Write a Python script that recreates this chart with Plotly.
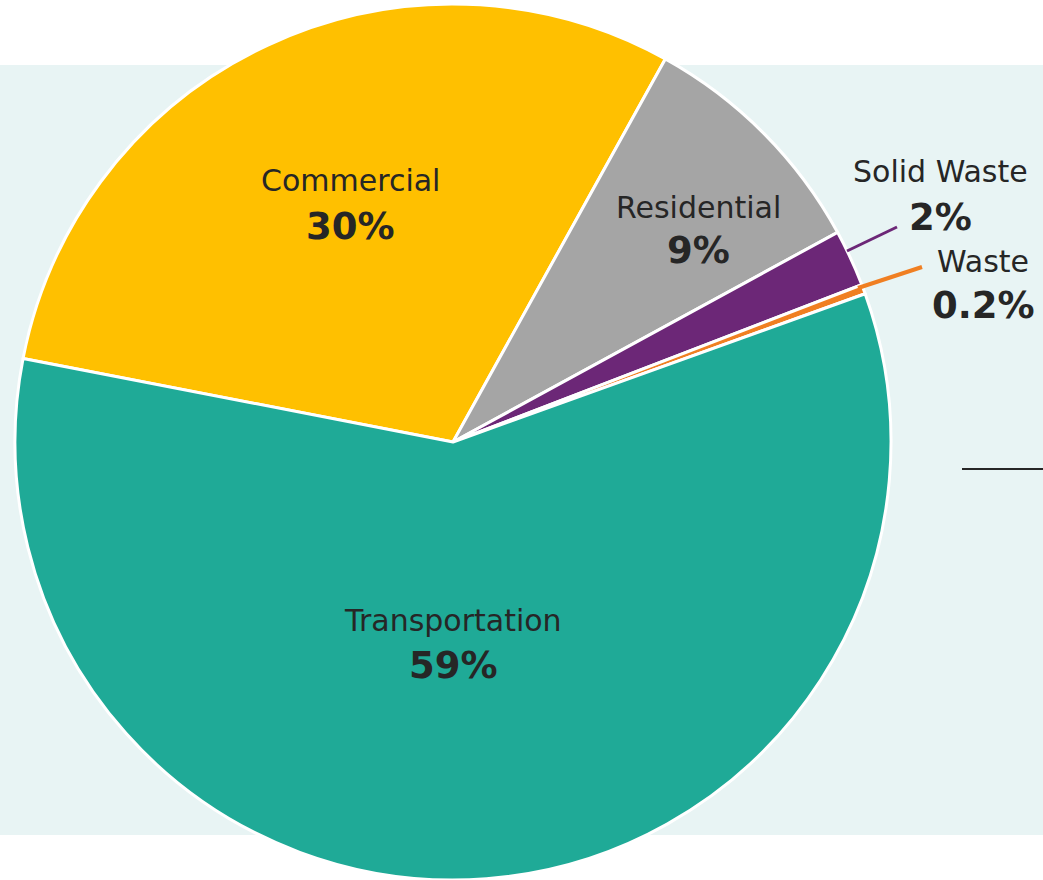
import plotly.graph_objects as go

# Data
categories = ["Commercial", "Residential", "Solid Waste", "Waste", "Transportation"]
values = [30.0, 9.0, 2.1, 0.35, 58.55]
pct_labels = ["30%", "9%", "2%", "0.2%", "59%"]
colors = ["#FFC000", "#A5A5A5", "#6C2777", "#F07F22", "#1FAA97"]

W, H = 1043, 880
cx, cy, r = 453, 442, 438

fig = go.Figure()
fig.add_trace(go.Pie(
    labels=categories,
    values=values,
    sort=False,
    direction="clockwise",
    rotation=281,
    textinfo="none",
    hoverinfo="label+percent",
    marker=dict(colors=colors, line=dict(color="white", width=3)),
    domain=dict(x=[(cx - r) / W, (cx + r) / W], y=[1 - (cy + r) / H, 1 - (cy - r) / H]),
    showlegend=False,
))

def px(x):
    return x / W

def py(y):
    return 1 - y / H

# label positions (pixel centers) per category: name line, pct line
label_pos = {
    "Commercial": (350, 180, 226),
    "Residential": (698, 207, 251),
    "Transportation": (453, 620, 665),
    "Solid Waste": (940, 172, 217),
    "Waste": (983, 261, 306),
}

txtcol = "#262626"
annotations = []
for cat, pct in zip(categories, pct_labels):
    x, y1, y2 = label_pos[cat]
    annotations.append(dict(x=px(x), y=py(y1), xref="paper", yref="paper", text=cat,
                            showarrow=False, xanchor="center", yanchor="middle",
                            font=dict(family="DejaVu Sans", size=30, color=txtcol)))
    annotations.append(dict(x=px(x), y=py(y2), xref="paper", yref="paper", text="<b>" + pct + "</b>",
                            showarrow=False, xanchor="center", yanchor="middle",
                            font=dict(family="DejaVu Sans", size=37, color=txtcol)))

shapes = [
    dict(type="rect", xref="paper", yref="paper", x0=0, x1=1, y0=py(835), y1=py(65),
         fillcolor="#E8F4F4", line=dict(width=0), layer="below"),
    dict(type="line", xref="paper", yref="paper", x0=px(847), y0=py(251), x1=px(897), y1=py(227),
         line=dict(color="#6C2777", width=3)),
    dict(type="line", xref="paper", yref="paper", x0=px(858), y0=py(288), x1=px(922), y1=py(267),
         line=dict(color="#F07F22", width=4)),
    dict(type="line", xref="paper", yref="paper", x0=px(962), y0=py(469), x1=1, y1=py(469),
         line=dict(color="#262626", width=2)),
]

fig.update_layout(
    width=W, height=H,
    margin=dict(l=0, r=0, t=0, b=0),
    paper_bgcolor="white",
    plot_bgcolor="white",
    annotations=annotations,
    shapes=shapes,
)

fig.write_html(
    "out.html",
    config={"displayModeBar": False},
    post_script="document.body.style.margin='0';document.body.style.overflow='hidden';",
)
